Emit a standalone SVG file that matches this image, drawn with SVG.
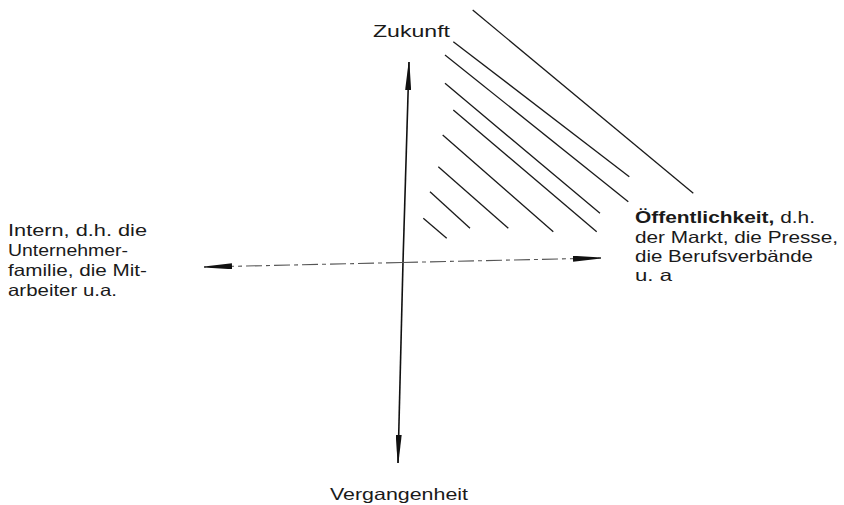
<svg xmlns="http://www.w3.org/2000/svg" width="844" height="505" viewBox="0 0 844 505">
<defs>
<marker id="ah" viewBox="0 0 28 6" refX="28" refY="3" markerWidth="28" markerHeight="6" markerUnits="userSpaceOnUse" orient="auto">
<path d="M0,0 L28,2.6 L28,3.4 L0,6 Z" fill="#111"/>
</marker>
</defs>
<style>
text{font-family:"Liberation Sans",Arial,sans-serif;font-size:16.5px;fill:#1a1a1a}
.hatch line{stroke:#1a1a1a;stroke-width:1.3}
.axis{stroke:#111;stroke-width:1.6;fill:none}
.haxis{stroke:#555;stroke-width:1.1;stroke-dasharray:16 4 4 4;fill:none}
</style>
<g id="hatch" class="hatch">
<line x1="472.7" y1="10" x2="693.3" y2="193.3"/>
<line x1="453.3" y1="41.7" x2="629.3" y2="176.7"/>
<line x1="445" y1="55" x2="628.3" y2="201.7"/>
<line x1="445" y1="83.3" x2="600" y2="213.3"/>
<line x1="453.3" y1="110" x2="596.7" y2="231.7"/>
<line x1="442.7" y1="135" x2="553.3" y2="231.7"/>
<line x1="438.3" y1="166.7" x2="508.3" y2="228.3"/>
<line x1="430" y1="191.7" x2="470" y2="228.3"/>
<line x1="423.3" y1="218.3" x2="446.7" y2="238.3"/>
</g>
<g id="connectors">
<line class="axis" x1="403" y1="262" x2="409" y2="62" marker-end="url(#ah)"/>
<line class="axis" x1="403" y1="262" x2="398" y2="463" marker-end="url(#ah)"/>
<line class="haxis" x1="402" y1="262.5" x2="204" y2="267" marker-end="url(#ah)"/>
<line class="haxis" x1="402" y1="262.5" x2="601" y2="258" marker-end="url(#ah)"/>
</g>
<g id="zukunft"><text x="373" y="37" textLength="77" lengthAdjust="spacingAndGlyphs">Zukunft</text></g>
<g id="vergangenheit"><text x="330" y="500" textLength="138" lengthAdjust="spacingAndGlyphs">Vergangenheit</text></g>
<g id="intern">
<text x="8" y="236" textLength="139" lengthAdjust="spacingAndGlyphs">Intern, d.h. die</text>
<text x="8" y="256" textLength="120" lengthAdjust="spacingAndGlyphs">Unternehmer-</text>
<text x="8" y="276" textLength="139" lengthAdjust="spacingAndGlyphs">familie, die Mit-</text>
<text x="8" y="296" textLength="109" lengthAdjust="spacingAndGlyphs">arbeiter u.a.</text>
</g>
<g id="oeffentlichkeit">
<text x="635" y="223" textLength="180" lengthAdjust="spacingAndGlyphs"><tspan font-weight="bold">Öffentlichkeit,</tspan> d.h.</text>
<text x="635" y="243" textLength="203" lengthAdjust="spacingAndGlyphs">der Markt, die Presse,</text>
<text x="635" y="262" textLength="178" lengthAdjust="spacingAndGlyphs">die Berufsverbände</text>
<text x="635" y="281" textLength="37" lengthAdjust="spacingAndGlyphs">u. a</text>
</g>
</svg>
